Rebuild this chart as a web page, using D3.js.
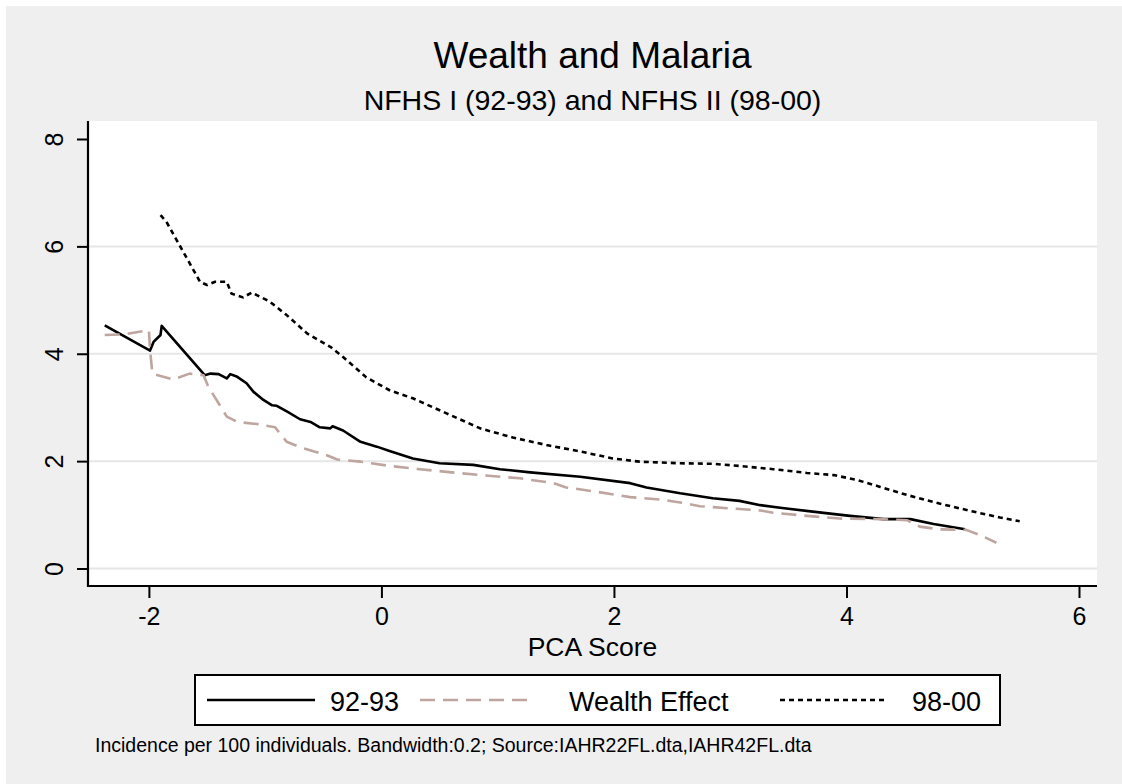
<!DOCTYPE html>
<html>
<head>
<meta charset="utf-8">
<script src="https://cdn.jsdelivr.net/npm/d3@7"></script>
<style>
  body { margin: 0; background: #fff; }
  svg { display: block; font-family: "Liberation Sans", Arial, sans-serif; }
</style>
</head>
<body>
<div id="chart"></div>
<script>
// 92-93 survey
const pca9293 = [-2.38, -1.99, -1.96, -1.90, -1.89, -1.52, -1.47, -1.40, -1.33, -1.30, -1.24, -1.16, -1.10, -1.015, -0.94, -0.90, -0.81, -0.70, -0.61, -0.53, -0.44, -0.42, -0.33, -0.18, -0.04, 0.07, 0.27, 0.50, 0.79, 1.02, 1.28, 1.71, 2.14, 2.28, 2.57, 2.85, 3.08, 3.26, 3.43, 3.71, 4.03, 4.32, 4.55, 4.75, 5.02];
const inc9293 = [4.53, 4.06, 4.22, 4.35, 4.52, 3.60, 3.63, 3.62, 3.54, 3.62, 3.57, 3.45, 3.29, 3.14, 3.04, 3.03, 2.92, 2.78, 2.73, 2.63, 2.61, 2.65, 2.57, 2.36, 2.27, 2.19, 2.05, 1.96, 1.93, 1.85, 1.79, 1.71, 1.59, 1.51, 1.40, 1.31, 1.26, 1.18, 1.13, 1.06, 0.98, 0.92, 0.92, 0.83, 0.73];

// wealth effect
const pcaWealth = [-2.38, -2.22, -2.00, -1.99, -1.97, -1.79, -1.65, -1.53, -1.49, -1.39, -1.33, -1.24, -1.07, -0.915, -0.815, -0.70, -0.47, -0.38, -0.18, 0.07, 0.33, 0.56, 0.85, 1.19, 1.48, 1.59, 1.85, 2.14, 2.42, 2.57, 2.74, 3.0, 3.26, 3.37, 3.66, 3.94, 4.29, 4.52, 4.63, 4.80, 5.03, 5.15, 5.29];
const incWealth = [4.35, 4.36, 4.44, 4.07, 3.63, 3.52, 3.63, 3.60, 3.39, 3.04, 2.83, 2.73, 2.69, 2.63, 2.36, 2.26, 2.11, 2.03, 1.99, 1.91, 1.85, 1.80, 1.74, 1.68, 1.59, 1.51, 1.43, 1.33, 1.28, 1.23, 1.16, 1.12, 1.08, 1.04, 0.98, 0.93, 0.92, 0.90, 0.78, 0.73, 0.72, 0.62, 0.48];

// 98-00 survey
const pca9800 = [-1.90, -1.85, -1.56, -1.50, -1.43, -1.33, -1.29, -1.19, -1.115, -0.96, -0.815, -0.64, -0.44, -0.33, -0.13, 0.07, 0.27, 0.56, 0.85, 1.13, 1.42, 1.71, 1.99, 2.22, 2.57, 2.85, 3.08, 3.37, 3.66, 3.89, 4.09, 4.29, 4.52, 4.80, 5.09, 5.32, 5.49];
const inc9800 = [6.58, 6.46, 5.34, 5.28, 5.34, 5.34, 5.12, 5.05, 5.14, 4.97, 4.72, 4.38, 4.13, 3.94, 3.56, 3.32, 3.17, 2.89, 2.61, 2.44, 2.30, 2.18, 2.05, 1.99, 1.96, 1.95, 1.91, 1.85, 1.78, 1.74, 1.65, 1.52, 1.37, 1.21, 1.06, 0.95, 0.88];

const xTicks = [-2, 0, 2, 4, 6];
const yTicks = [0, 2, 4, 6, 8];
const gridTicks = [0, 2, 4, 6];
const seriesNames = ['92-93', 'Wealth Effect', '98-00'];

const width = 1122;
const height = 784;

const plotLeft = 88, plotRight = 1097, plotTop = 121, plotBottom = 586;

const x = d3.scaleLinear().domain([-2, 6]).range([148.9, 1079]);
const y = d3.scaleLinear().domain([0, 8]).range([568.5, 139]);

const styles = [
    { color: '#000000', dash: null },
    { color: '#bea59f', dash: '15,8' },
    { color: '#000000', dash: '5,4' }
];

const series = [
    d3.zip(pca9293, inc9293),
    d3.zip(pcaWealth, incWealth),
    d3.zip(pca9800, inc9800)
];

const svg = d3.select('#chart')
    .append('svg')
    .attr('width', width)
    .attr('height', height);

// grey graph region
svg.append('rect')
    .attr('x', 6).attr('y', 6)
    .attr('width', width - 6).attr('height', height - 6)
    .attr('fill', '#efefef');

// plot region
svg.append('rect')
    .attr('x', plotLeft).attr('y', plotTop)
    .attr('width', plotRight - plotLeft).attr('height', plotBottom - plotTop)
    .attr('fill', '#ffffff');

svg.append('g')
    .selectAll('line')
    .data(gridTicks)
    .enter()
    .append('line')
    .attr('x1', plotLeft).attr('x2', plotRight)
    .attr('y1', d => y(d)).attr('y2', d => y(d))
    .attr('stroke', '#e6e6e6')
    .attr('stroke-width', 2);

// axes (plain hyphen for negatives, like the original)
const xAxis = svg.append('g')
    .attr('transform', 'translate(0,' + plotBottom + ')')
    .call(d3.axisBottom(x).tickValues(xTicks).tickSize(12).tickFormat(d => String(d)));

const yAxis = svg.append('g')
    .attr('transform', 'translate(' + plotLeft + ',0)')
    .call(d3.axisLeft(y).tickValues(yTicks).tickSize(11).tickFormat(d => String(d)));

[xAxis, yAxis].forEach(a => {
    a.select('.domain').remove();
    a.selectAll('.tick line').attr('stroke', '#000').attr('stroke-width', 2);
    a.selectAll('text').attr('fill', '#000').attr('font-size', 25)
        .attr('font-family', '"Liberation Sans", Arial, sans-serif');
});

xAxis.selectAll('.tick text').attr('dy', null).attr('y', 39);

yAxis.selectAll('.tick text')
    .attr('x', null).attr('dy', null)
    .attr('text-anchor', 'middle')
    .attr('transform', 'translate(-25,0) rotate(-90)');

svg.append('line')
    .attr('x1', plotLeft).attr('x2', plotRight)
    .attr('y1', plotBottom).attr('y2', plotBottom)
    .attr('stroke', '#000').attr('stroke-width', 2.2);

svg.append('line')
    .attr('x1', plotLeft).attr('x2', plotLeft)
    .attr('y1', plotTop).attr('y2', plotBottom + 1)
    .attr('stroke', '#000').attr('stroke-width', 2.2);

// lines
const line = d3.line()
    .x(d => x(d[0]))
    .y(d => y(d[1]));

svg.append('g')
    .selectAll('path')
    .data(series)
    .enter()
    .append('path')
    .attr('d', line)
    .attr('fill', 'none')
    .attr('stroke', (d, i) => styles[i].color)
    .attr('stroke-width', 2.6)
    .attr('stroke-linejoin', 'round')
    .attr('stroke-dasharray', (d, i) => styles[i].dash);

// titles
svg.append('text')
    .attr('x', (plotLeft + plotRight) / 2).attr('y', 68)
    .attr('text-anchor', 'middle')
    .attr('font-size', 37)
    .text('Wealth and Malaria');

svg.append('text')
    .attr('x', (plotLeft + plotRight) / 2).attr('y', 110)
    .attr('text-anchor', 'middle')
    .attr('font-size', 28.5)
    .text('NFHS I (92-93) and NFHS II (98-00)');

svg.append('text')
    .attr('x', (plotLeft + plotRight) / 2).attr('y', 656)
    .attr('text-anchor', 'middle')
    .attr('font-size', 26.5)
    .text('PCA Score');

// legend
const legendX = [207, 420, 780];
const legend = svg.append('g');

legend.append('rect')
    .attr('x', 195).attr('y', 675)
    .attr('width', 805).attr('height', 50)
    .attr('fill', '#fff')
    .attr('stroke', '#000')
    .attr('stroke-width', 2);

const items = legend.selectAll('g.item')
    .data(seriesNames)
    .enter()
    .append('g')
    .attr('class', 'item')
    .attr('transform', (d, i) => 'translate(' + legendX[i] + ',700)');

items.append('line')
    .attr('x1', 0).attr('x2', 108)
    .attr('y1', 0).attr('y2', 0)
    .attr('stroke', (d, i) => styles[i].color)
    .attr('stroke-width', 2.6)
    .attr('stroke-dasharray', (d, i) => styles[i].dash);

items.append('text')
    .attr('x', (d, i) => [123, 149, 132][i])
    .attr('y', 11)
    .attr('font-size', 27)
    .text(d => d);

// note
svg.append('text')
    .attr('x', 95).attr('y', 752)
    .attr('font-size', 19.5)
    .text('Incidence per 100 individuals. Bandwidth:0.2; Source:IAHR22FL.dta,IAHR42FL.dta');
</script>
</body>
</html>
